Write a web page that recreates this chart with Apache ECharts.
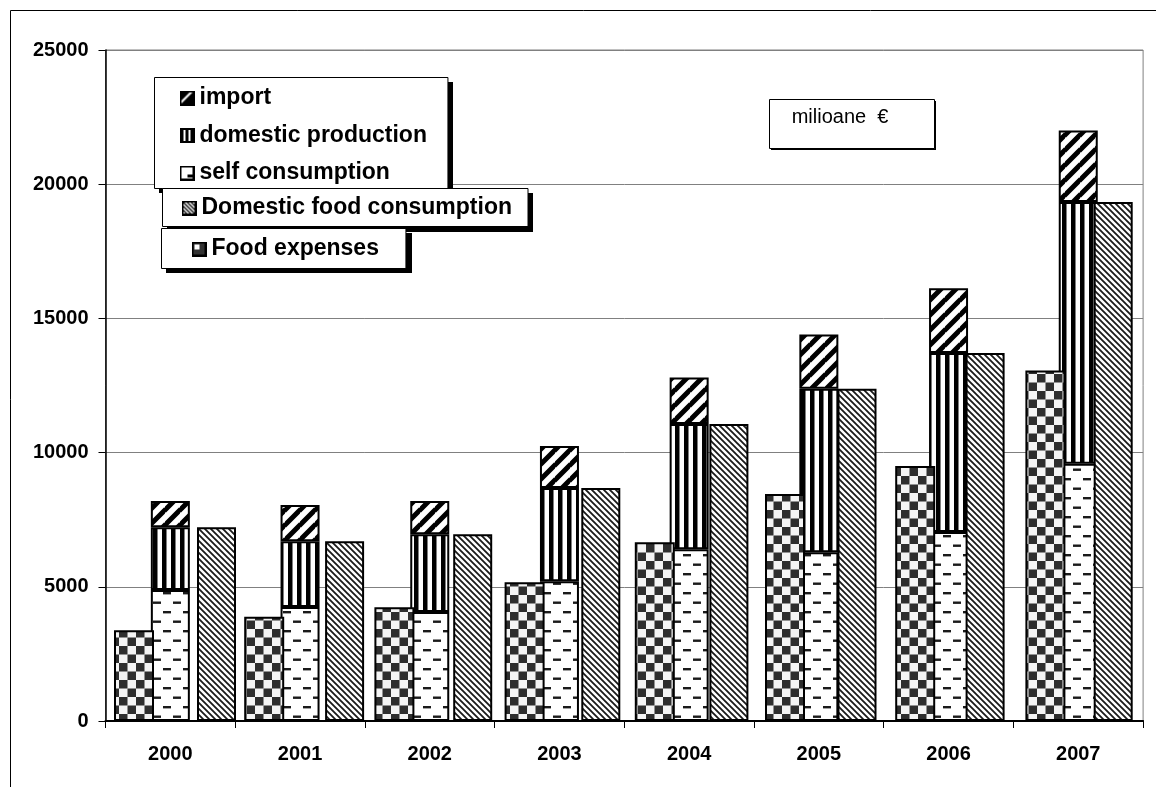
<!DOCTYPE html>
<html>
<head>
<meta charset="utf-8">
<script src="https://cdn.jsdelivr.net/npm/echarts@6/dist/echarts.min.js"></script>
<style>
  html, body { margin: 0; padding: 0; background: #fff; }
  #chart { width: 1156px; height: 787px; }
</style>
</head>
<body>
<div id="chart"></div>
<script>
// Food market in Romania, million euro, 2000-2007
const years = ['2000', '2001', '2002', '2003', '2004', '2005', '2006', '2007'];
const foodExpenses = [3380, 3880, 4240, 5170, 6660, 8460, 9500, 13060];
const selfConsumption = [4880, 4250, 4060, 5210, 6400, 6290, 7040, 9580];
const domesticProduction = [2340, 2450, 2900, 3470, 4670, 6090, 6670, 9760];
const importValues = [980, 1350, 1240, 1570, 1730, 2020, 2410, 2660];
const domesticFoodConsumption = [7220, 6700, 6960, 8680, 11070, 12380, 13710, 19340];

const FONT = "'Liberation Sans', Arial, sans-serif";

function tile(w, h, draw) {
  const c = document.createElement('canvas');
  c.width = w; c.height = h;
  const g = c.getContext('2d');
  draw(g, w, h);
  return c;
}

// Fill patterns for the bars
const checkerTile = tile(17, 17, (g) => {
  g.fillStyle = '#f4f4f4'; g.fillRect(0, 0, 17, 17);
  g.fillStyle = '#2e2e2e';
  g.fillRect(0, 0, 8.5, 8.5);
  g.fillRect(8.5, 8.5, 8.5, 8.5);
});
const dashTile = tile(20, 19, (g) => {
  g.fillStyle = '#fff'; g.fillRect(0, 0, 20, 19);
  g.fillStyle = '#1a1a1a';
  g.fillRect(3, 3, 8, 2.4);
  g.fillRect(13, 12.5, 8, 2.4);
  g.fillRect(-7, 12.5, 8, 2.4);
});
const vstripeTile = tile(9, 9, (g) => {
  g.fillStyle = '#fff'; g.fillRect(0, 0, 9, 9);
  g.fillStyle = '#000'; g.fillRect(0, 0, 4.5, 9);
});
const fwdTile = tile(15, 15, (g, P) => {
  g.fillStyle = '#fff'; g.fillRect(0, 0, P, P);
  g.strokeStyle = '#000'; g.lineWidth = 5;
  g.beginPath();
  [0, P, 2 * P].forEach(c => { g.moveTo(-1, c + 1); g.lineTo(P + 1, c - P - 1); });
  g.stroke();
});
const backTile = tile(6, 6, (g, P) => {
  g.fillStyle = '#fff'; g.fillRect(0, 0, P, P);
  g.strokeStyle = '#1a1a1a'; g.lineWidth = 1.8;
  g.beginPath();
  [-P, 0, P].forEach(c => { g.moveTo(-1, c - 1); g.lineTo(P + 1, c + P + 1); });
  g.stroke();
});
const pat = (c) => ({ image: c, repeat: 'repeat' });

// Legend icons
function icon(draw) {
  return 'image://' + tile(15, 15, (g) => {
    g.fillStyle = '#fff'; g.fillRect(0, 0, 15, 15);
    draw(g);
    g.strokeStyle = '#000'; g.lineWidth = 2;
    g.strokeRect(1, 1, 13, 13);
  }).toDataURL();
}
const icons = {
  'import': icon(g => {
    g.fillStyle = '#000';
    g.beginPath(); g.moveTo(1, 14); g.lineTo(14, 1); g.lineTo(14, 14); g.closePath(); g.fill();
    g.beginPath(); g.moveTo(1, 11); g.lineTo(11, 1); g.lineTo(1, 1); g.closePath(); g.fill();
  }),
  'domestic production': icon(g => {
    g.fillStyle = '#000';
    g.fillRect(1, 1, 3, 13); g.fillRect(6, 1, 3, 13); g.fillRect(11, 1, 3, 13);
  }),
  'self consumption': icon(g => {
    g.fillStyle = '#000';
    g.fillRect(8, 9, 5, 3);
  }),
  'Domestic food consumption': icon(g => {
    g.strokeStyle = '#000'; g.lineWidth = 1.3;
    g.beginPath();
    [-8, -4, 0, 4, 8].forEach(c => { g.moveTo(1, 1 + c); g.lineTo(14, 14 + c); });
    g.stroke();
  }),
  'Food expenses': icon(g => {
    g.fillStyle = '#333'; g.fillRect(1, 1, 13, 13);
    g.fillStyle = '#fff'; g.fillRect(3, 3, 5, 5);
  })
};

const chart = echarts.init(document.getElementById('chart'), null, { renderer: 'canvas' });

const barBorder = { borderColor: '#000', borderWidth: 2 };
const hiddenY = (i) => ({ type: 'value', gridIndex: i, min: 0, max: 25000, interval: 5000, show: false });
const hiddenX = (i) => ({ type: 'category', gridIndex: i, data: years, show: false });

const legendText = { fontFamily: FONT, fontSize: 23, fontWeight: 'bold', color: '#000', lineHeight: 27 };
const legendBox = {
  orient: 'vertical', align: 'left', selectedMode: false,
  itemWidth: 15, itemHeight: 15,
  backgroundColor: '#fff', borderColor: '#000', borderWidth: 1, borderRadius: 0,
  textStyle: legendText
};
const legendItem = (name) => ({ name: name, icon: icons[name] });

// Drop shadow behind a boxed element
const shadow = (x, y, w, h, z) => ({
  type: 'rect', silent: true, z: z, shape: { x: x, y: y, width: w, height: h }, style: { fill: '#000' }
});

chart.setOption({
  animation: false,
  backgroundColor: '#fff',
  grid: [
    { left: 105.5, width: 1037.6, top: 50, bottom: 66, outerBoundsMode: 'none',
      show: true, borderColor: '#808080', borderWidth: 1, backgroundColor: 'transparent' },
    { left: 68.9, width: 1041.6, top: 50, bottom: 66, outerBoundsMode: 'none' },
    { left: 152.45, width: 1024.8, top: 50, bottom: 66, outerBoundsMode: 'none' }
  ],
  xAxis: [
    {
      type: 'category', gridIndex: 0, data: years,
      axisLine: { lineStyle: { color: '#000', width: 2 } },
      axisTick: { show: true, length: 7, interval: 0, lineStyle: { color: '#000', width: 1 } },
      axisLabel: { fontFamily: FONT, fontSize: 20, fontWeight: 'bold', color: '#000', margin: 23 }
    },
    hiddenX(1), hiddenX(2)
  ],
  yAxis: [
    {
      type: 'value', gridIndex: 0, min: 0, max: 25000, interval: 5000,
      axisLine: { show: true, lineStyle: { color: '#000', width: 1.5 } },
      axisTick: { show: true, length: 7, lineStyle: { color: '#000', width: 1 } },
      axisLabel: { fontFamily: FONT, fontSize: 20, fontWeight: 'bold', color: '#000', margin: 17,
        formatter: (v) => String(v) },
      splitLine: { show: true, lineStyle: { color: '#808080', width: 1 } }
    },
    hiddenY(1), hiddenY(2)
  ],
  legend: [
    Object.assign({}, legendBox, {
      left: 154.5, top: 77.5, padding: [7, 21, 2, 25], itemGap: 10.5, itemTextGap: 5, z: 10,
      data: ['import', 'domestic production', 'self consumption'].map(legendItem)
    }),
    Object.assign({}, legendBox, {
      left: 162.5, top: 188.5, padding: [6, 16, 5, 19], itemTextGap: 6, z: 12,
      data: ['Domestic food consumption'].map(legendItem)
    }),
    Object.assign({}, legendBox, {
      left: 161.5, top: 228.5, padding: [7, 27, 6, 30], itemTextGap: 6, z: 14,
      data: ['Food expenses'].map(legendItem)
    })
  ],
  graphic: [
    { type: 'rect', silent: true, z: 0, shape: { x: 10.5, y: 10.5, width: 1300, height: 900 },
      style: { fill: 'none', stroke: '#000', lineWidth: 1 } },
    shadow(159, 82, 294, 111, 9),
    shadow(167, 193, 366, 39, 11),
    shadow(166, 233, 246, 40, 13),
    shadow(771, 101, 165, 49, 20),
    { type: 'rect', silent: true, z: 21, shape: { x: 769.5, y: 99.5, width: 165, height: 49 },
      style: { fill: '#fff', stroke: '#000', lineWidth: 1 } },
    { type: 'text', silent: true, z: 22, x: 840, y: 117,
      style: { text: 'milioane  €', font: '20px ' + FONT, fill: '#000', align: 'center', verticalAlign: 'middle' } }
  ],
  series: [
    { name: 'self consumption', type: 'bar', stack: 'supply', xAxisIndex: 0, yAxisIndex: 0, z: 2,
      barWidth: 39, data: selfConsumption, itemStyle: Object.assign({ color: pat(dashTile) }, barBorder) },
    { name: 'domestic production', type: 'bar', stack: 'supply', xAxisIndex: 0, yAxisIndex: 0, z: 2,
      barWidth: 39, data: domesticProduction, itemStyle: Object.assign({ color: pat(vstripeTile) }, barBorder) },
    { name: 'import', type: 'bar', stack: 'supply', xAxisIndex: 0, yAxisIndex: 0, z: 2,
      barWidth: 39, data: importValues, itemStyle: Object.assign({ color: pat(fwdTile) }, barBorder) },
    { name: 'Food expenses', type: 'bar', xAxisIndex: 1, yAxisIndex: 1, z: 3,
      barWidth: 40, data: foodExpenses, itemStyle: Object.assign({ color: pat(checkerTile) }, barBorder) },
    { name: 'Domestic food consumption', type: 'bar', xAxisIndex: 2, yAxisIndex: 2, z: 3,
      barWidth: 39, data: domesticFoodConsumption, itemStyle: Object.assign({ color: pat(backTile) }, barBorder) }
  ]
});
</script>
</body>
</html>
